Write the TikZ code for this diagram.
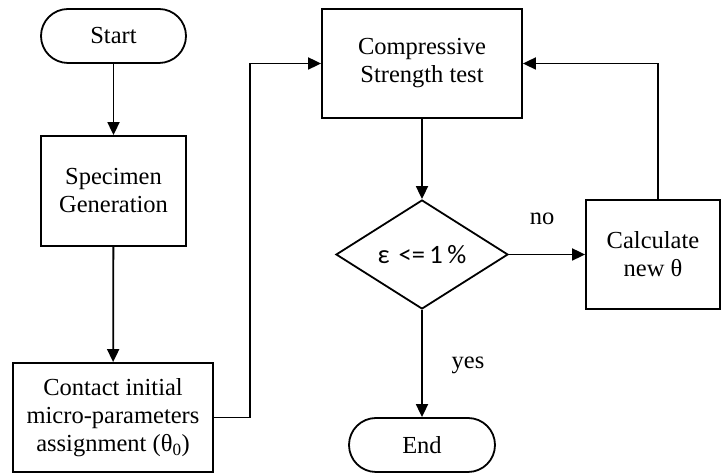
\documentclass[tikz,border=0pt]{standalone}
\usepackage{fontspec}
\setmainfont{Liberation Serif}
\newfontfamily\carlitofont{Carlito}
\usetikzlibrary{arrows.meta,shapes.geometric,calc}
\begin{document}
\begin{tikzpicture}[x=1pt,y=1pt,
  base/.style={draw,line width=1.8pt,align=center,inner sep=0pt,
    font=\fontsize{24.5}{28}\selectfont},
  box/.style={base,rectangle},
  term/.style={base,rectangle,rounded corners=27pt,minimum width=145pt,minimum height=54pt},
  dec/.style={base,diamond,minimum width=172pt,minimum height=109pt},
  arr/.style={line width=1.8pt,-{Triangle[length=13pt,width=12pt]}},
  lbl/.style={font=\fontsize{24.5}{28}\selectfont}]
\useasboundingbox (0,0) rectangle (721,473);
\node[term] (start) at (113.5,437) {Start};
\node[box,minimum width=145pt,minimum height=110pt] (spec) at (113.5,282) {Specimen\\Generation};
\node[box,minimum width=200pt,minimum height=109pt] (cont) at (113,55.5) {Contact initial\\micro-parameters\\assignment (θ\textsubscript{0})};
\node[box,minimum width=200pt,minimum height=109pt] (comp) at (422,409.5) {Compressive\\Strength test};
\node[dec,font=\carlitofont\fontsize{26.5}{30}\selectfont] (dec) at (422,218.5) {ε\,\,<=\,1\,\%};
\node[box,minimum width=134pt,minimum height=109pt] (calc) at (653,218.5) {Calculate\\new θ};
\node[term,minimum width=146pt] (end) at (422,28) {End};
\coordinate (lx) at (250,0);
\coordinate (rx) at (658,0);
\draw[arr] (start) -- (spec);
\draw[arr] (spec) -- (cont);
\draw[arr] (cont.east) -| (lx |- comp.west) -- (comp.west);
\draw[arr] (comp) -- (dec);
\draw[arr] (dec) -- (calc);
\draw[arr] (calc.north -| rx) |- (comp.east);
\draw[arr] (dec) -- (end);
\node[lbl] (no) at (542,254) {no};
\node[lbl] (yes) at (468,108) {yes};
\end{tikzpicture}
\end{document}
